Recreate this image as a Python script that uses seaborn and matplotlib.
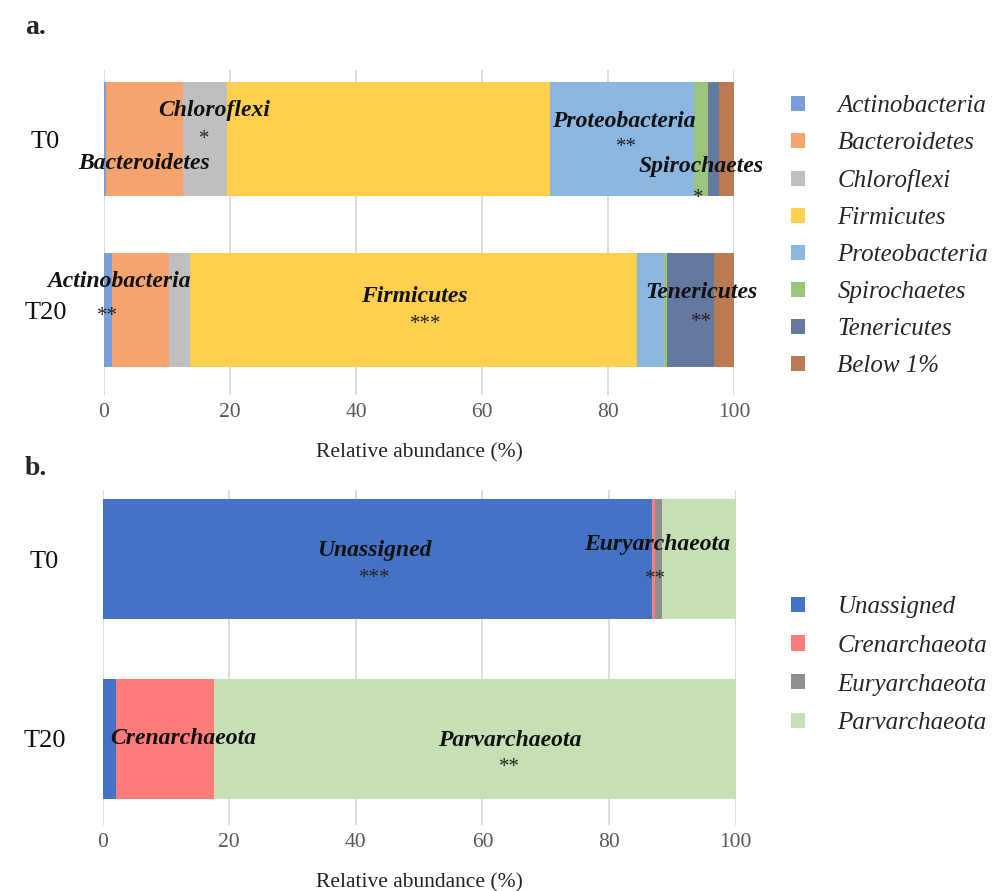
import matplotlib
matplotlib.use("Agg")
import matplotlib.pyplot as plt
from matplotlib.patches import Patch
import numpy as np
import pandas as pd
import seaborn as sns

# ---- data -------------------------------------------------------------
samples = ["T0", "T20"]

bacteria_phyla = ["Actinobacteria", "Bacteroidetes", "Chloroflexi", "Firmicutes",
                  "Proteobacteria", "Spirochaetes", "Tenericutes", "Below 1%"]
bacteria_t0 = [0.3, 12.2, 7.0, 51.3, 22.9, 2.1, 1.8, 2.4]
bacteria_t20 = [1.3, 9.0, 3.4, 70.9, 4.3, 0.5, 7.5, 3.1]
bacteria_colors = ["#7B9ED8", "#F4A46C", "#BFBFBF", "#FFD04E",
                   "#8AB6E0", "#9CC57C", "#6479A0", "#BA7B53"]

archaea_phyla = ["Unassigned", "Crenarchaeota", "Euryarchaeota", "Parvarchaeota"]
archaea_t0 = [86.8, 0.4, 1.1, 11.7]
archaea_t20 = [2.1, 15.5, 0.0, 82.4]
archaea_colors = ["#4472C4", "#FF7C7A", "#8E8E8E", "#C5E0B4"]

# significance labels: (sample index, phylum, stars, label x, label y, star x, star y)
bacteria_notes = [
    (0, "Chloroflexi", "*", 17.5, -0.165, 15.9, 0.0),
    (0, "Bacteroidetes", "", 6.4, 0.14, None, None),
    (0, "Proteobacteria", "**", 82.5, -0.10, 83.0, 0.05),
    (0, "Spirochaetes", "*", 94.8, 0.158, 94.4, 0.345),
    (1, "Actinobacteria", "**", 2.4, -0.165, 0.6, 0.035),
    (1, "Firmicutes", "***", 49.3, -0.08, 51.0, 0.085),
    (1, "Tenericutes", "**", 94.8, -0.10, 94.8, 0.075),
]
archaea_notes = [
    (0, "Unassigned", "***", 42.9, -0.05, 43.0, 0.105),
    (0, "Euryarchaeota", "**", 87.6, -0.08, 87.4, 0.11),
    (1, "Crenarchaeota", "", 12.7, 0.0, None, None),
    (1, "Parvarchaeota", "**", 64.3, 0.01, 64.3, 0.16),
]

xticks = [0, 20, 40, 60, 80, 100]

# ---- style ------------------------------------------------------------
sns.set_style("whitegrid")
plt.rcParams["font.family"] = ["Liberation Serif", "DejaVu Serif"]

fig = plt.figure(figsize=(9.97, 8.91), dpi=100)
ax_a = fig.add_axes([0.1043, 0.5567, 0.6319, 0.3647])
ax_b = fig.add_axes([0.1030, 0.0741, 0.6349, 0.3760])


def stacked(ax, phyla, t0, t20, colors, notes, ylim):
    df = pd.DataFrame({"sample": samples * len(phyla),
                       "phylum": np.repeat(phyla, 2),
                       "value": np.ravel(np.column_stack([t0, t20]))})
    wide = df.pivot(index="sample", columns="phylum", values="value")[phyla]
    cum = wide.cumsum(axis=1)
    # overlay cumulative totals from the outermost segment inwards
    for name, col in zip(reversed(phyla), reversed(colors)):
        sns.barplot(x=cum[name].values, y=list(cum.index), orient="h", color=col,
                    saturation=1, width=0.667, linewidth=0, ax=ax)
    ax.set_xlim(0, 100)
    ax.set_ylim(*ylim)
    ax.set_xticks(xticks)
    ax.set_xticklabels([str(t) for t in xticks])
    ax.grid(axis="x", color="#D9D9D9", linewidth=1.3)
    ax.grid(axis="y", visible=False)
    for s in ax.spines.values():
        s.set_visible(False)
    ax.tick_params(axis="x", length=0, pad=6, labelsize=15.5, labelcolor="#595959")
    ax.tick_params(axis="y", length=0, pad=42, labelsize=19, labelcolor="#111111")
    for lab in ax.get_yticklabels():
        lab.set_ha("center")
    ax.set_ylabel("")
    ax.set_xlabel("Relative abundance (%)", fontsize=15.5, color="#222222", labelpad=15)

    for i, name, stars, lx, ly, sx, sy in notes:
        ax.text(lx, i + ly, name, ha="center", va="center", fontsize=17,
                fontstyle="italic", fontweight="bold", color="#111111")
        if stars:
            ax.text(sx, i + sy, stars, ha="center", va="center", fontsize=15,
                    color="#222222")

    handles = [Patch(facecolor=c, edgecolor="none", label=p) for p, c in zip(phyla, colors)]
    return handles


h_a = stacked(ax_a, bacteria_phyla, bacteria_t0, bacteria_t20, bacteria_colors,
              bacteria_notes, (1.497, -0.404))
h_b = stacked(ax_b, archaea_phyla, archaea_t0, archaea_t20, archaea_colors,
              archaea_notes, (1.479, -0.386))

leg_kw = dict(frameon=False, loc="upper left", borderpad=0, borderaxespad=0,
              handlelength=0.55, handleheight=0.55, handletextpad=1.3,
              prop={"size": 18, "style": "italic"})
fig.legend(handles=h_a, bbox_to_anchor=(0.7934, 0.893), labelspacing=0.6, **leg_kw)
fig.legend(handles=h_b, bbox_to_anchor=(0.7934, 0.331), labelspacing=0.67, **leg_kw)

fig.text(0.025, 1 - 27 / 891, "a.", fontsize=20, fontweight="bold", va="center")
fig.text(0.025, 1 - 468 / 891, "b.", fontsize=20, fontweight="bold", va="center")

fig.savefig("out.png", dpi=100)
